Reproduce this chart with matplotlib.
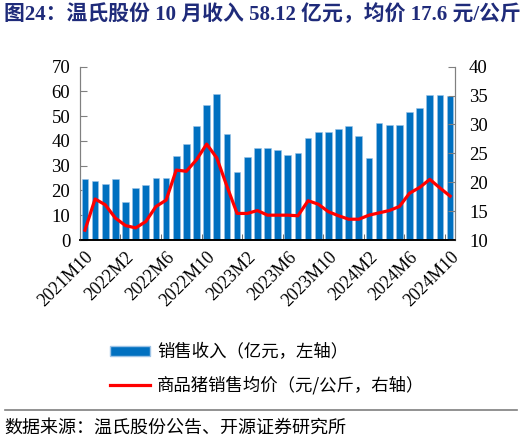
import numpy as np
import matplotlib
matplotlib.use("Agg")
import matplotlib.pyplot as plt
from matplotlib.patches import Patch
from matplotlib.lines import Line2D

plt.rcParams["font.family"] = ["Liberation Serif", "Noto Sans CJK SC"]

labels = ["2021M10", "2021M11", "2021M12", "2022M1", "2022M2", "2022M3", "2022M4",
          "2022M5", "2022M6", "2022M7", "2022M8", "2022M9", "2022M10", "2022M11",
          "2022M12", "2023M1", "2023M2", "2023M3", "2023M4", "2023M5", "2023M6",
          "2023M7", "2023M8", "2023M9", "2023M10", "2023M11", "2023M12", "2024M1",
          "2024M2", "2024M3", "2024M4", "2024M5", "2024M6", "2024M7", "2024M8",
          "2024M9", "2024M10"]

# 销售收入 (亿元)
revenue = [24.7, 23.9, 22.7, 24.6, 15.5, 20.9, 22.4, 25.0, 25.1, 34.0, 38.7, 46.0,
           54.5, 59.1, 42.8, 27.4, 33.5, 37.2, 37.0, 36.4, 34.4, 35.1, 41.0, 43.6,
           43.7, 44.7, 45.9, 42.2, 33.2, 47.1, 46.6, 46.4, 51.8, 53.3, 58.4, 58.4,
           58.12]

# 商品猪销售均价 (元/公斤)
price = [11.7, 17.1, 16.1, 13.8, 12.5, 12.1, 13.2, 15.8, 16.9, 22.1, 21.9, 23.9,
         26.6, 24.2, 19.3, 14.6, 14.6, 15.1, 14.3, 14.3, 14.3, 14.2, 16.8, 16.2,
         14.9, 14.2, 13.6, 13.6, 14.3, 14.7, 15.1, 15.8, 18.1, 19.1, 20.5, 19.0,
         17.6]

x = np.arange(len(labels))

fig = plt.figure(figsize=(5.22, 4.4), dpi=100)
ax = fig.add_axes([0.153, 0.4545, 0.719, 0.394])
ax2 = ax.twinx()

ax.bar(x, revenue, width=0.66, color="#0070C0", edgecolor="#9DC3E6", linewidth=0.4, zorder=2)
ax2.plot(x, price, color="#FF0000", lw=2.3, zorder=3)

ax.set_xlim(-0.5, len(labels) - 0.5)
ax.set_ylim(0, 70)
ax2.set_ylim(10, 40)
ax.set_yticks(range(0, 71, 10))
ax2.set_yticks(range(10, 41, 5))

major = x[::4]
ax.set_xticks(major)
ax.set_xticklabels([labels[i] for i in major], rotation=45, ha="right",
                   rotation_mode="anchor", fontsize=13)
ax.tick_params(axis="x", which="major", length=0, pad=6)
ax.set_xticks(major[1:] - 0.5, minor=True)
ax.tick_params(axis="x", which="minor", direction="in", length=4, color="#555555")

ax.tick_params(axis="y", direction="in", length=5, color="#808080", labelsize=13.5, pad=7)
ax2.tick_params(axis="y", direction="in", length=5, color="#808080", labelsize=13.5, pad=10)

for a in (ax, ax2):
    a.spines["top"].set_visible(False)
    a.spines["left"].set_color("#808080")
    a.spines["right"].set_color("#808080")
    a.spines["bottom"].set_color("#000000")
    a.spines["bottom"].set_linewidth(1.2)

ax.set_zorder(ax2.get_zorder() - 1)
ax.patch.set_visible(False)

fig.text(0.008, 0.967, "图24：温氏股份 10 月收入 58.12 亿元，均价 17.6 元/公斤",
         fontsize=15, fontweight="bold", color="#1F2B7A", va="center")

handles = [Patch(facecolor="#0070C0", edgecolor="#9DC3E6"),
           Line2D([0], [0], color="#FF0000", lw=2.3)]
fig.legend(handles, ["销售收入（亿元，左轴）", "商品猪销售均价（元/公斤，右轴）"],
           loc="upper left", bbox_to_anchor=(0.185, 0.252), bbox_transform=fig.transFigure,
           frameon=False, handlelength=2.3, handleheight=0.5,
           labelspacing=0.85, handletextpad=0.4, borderpad=0.3,
           prop={"family": ["Noto Sans CJK SC"], "size": 12.5})

fig.add_artist(Line2D([0.01, 0.99], [0.068, 0.068], color="#7F7F7F", lw=1.2,
                      transform=fig.transFigure))
fig.text(0.008, 0.028, "数据来源：温氏股份公告、开源证券研究所", fontsize=13,
         family=["Noto Sans CJK SC"], va="center")

fig.savefig("out.png", dpi=100)
